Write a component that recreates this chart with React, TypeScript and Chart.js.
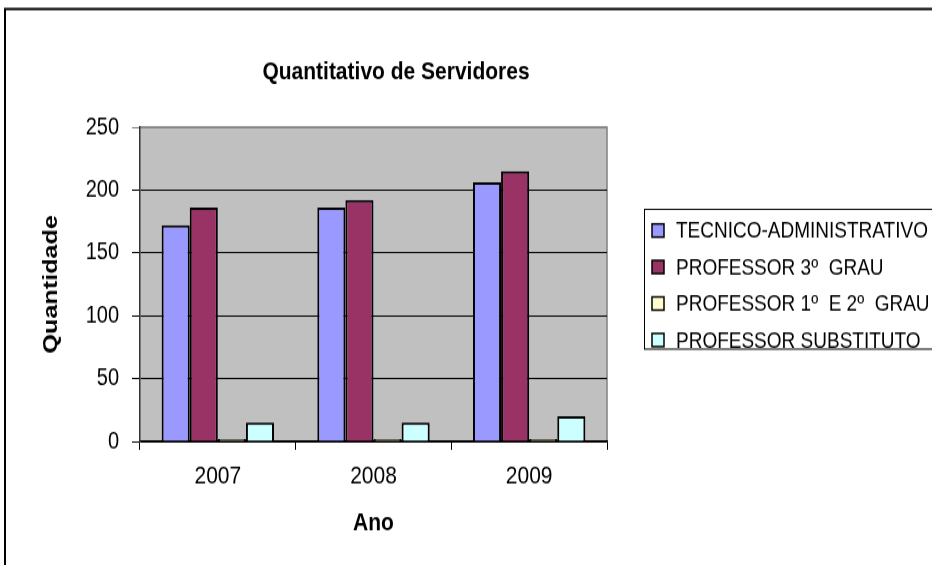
import React, { useEffect, useRef } from "react";
import { Chart, registerables } from "chart.js";

Chart.register(...registerables);

const TITLE = "Quantitativo de Servidores";
const Y_TITLE = "Quantidade";
const X_TITLE = "Ano";
const categories = ["2007", "2008", "2009"];
const seriesNames = [
  "TECNICO-ADMINISTRATIVO",
  "PROFESSOR 3º  GRAU",
  "PROFESSOR 1º  E 2º  GRAU",
  "PROFESSOR SUBSTITUTO",
];
const tecnicoAdministrativo = [172, 186, 206];
const professor3Grau = [186, 192, 215];
const professor1e2Grau = [2, 2, 2];
const professorSubstituto = [15, 15, 20];
const seriesColors = ["#9999FF", "#993366", "#FFFFCC", "#CCFFFF"];
const yTicks = [0, 50, 100, 150, 200, 250];

const FONT = "'Liberation Sans', Arial, sans-serif";
const W = 932;
const H = 471; // drawn height, stretched vertically to 565 like the original picture
const SY = 565 / H;

const decorPlugin = {
  id: "decor",
  beforeDraw(chart: any) {
    const { ctx, chartArea } = chart;
    ctx.save();
    ctx.fillStyle = "#ffffff";
    ctx.fillRect(0, 0, chart.width, chart.height);
    ctx.fillStyle = "#C0C0C0";
    ctx.fillRect(chartArea.left, chartArea.top, chartArea.right - chartArea.left, chartArea.bottom - chartArea.top);
    ctx.strokeStyle = "#808080";
    ctx.lineWidth = 1.5;
    ctx.beginPath();
    ctx.moveTo(chartArea.left, chartArea.top);
    ctx.lineTo(chartArea.right, chartArea.top);
    ctx.lineTo(chartArea.right, chartArea.bottom);
    ctx.stroke();
    ctx.restore();
  },
  afterDraw(chart: any) {
    const { ctx } = chart;
    ctx.save();
    // outer frame
    ctx.strokeStyle = "#000";
    ctx.lineWidth = 2;
    ctx.strokeRect(5, 7.5, chart.width + 20, chart.height + 20);
    // title
    ctx.fillStyle = "#000";
    ctx.font = `bold 21px ${FONT}`;
    ctx.textAlign = "center";
    ctx.textBaseline = "middle";
    ctx.fillText(TITLE, 396, 60.5);
    // legend
    ctx.strokeStyle = "#000";
    ctx.lineWidth = 1;
    ctx.strokeRect(644.5, 174.5, 400, 116.5);
    ctx.font = `19px ${FONT}`;
    ctx.textAlign = "left";
    chart.data.datasets.forEach((ds: any, i: number) => {
      const y = (230.5 + i * 36.5) / SY;
      ctx.fillStyle = ds.backgroundColor;
      ctx.fillRect(652, y - 5.5, 12, 11);
      ctx.lineWidth = 1.5;
      ctx.strokeStyle = "#000";
      ctx.strokeRect(652, y - 5.5, 12, 11);
      ctx.fillStyle = "#000";
      ctx.fillText(ds.label, 676, y + 1);
    });
    ctx.restore();
  },
};

export default function App() {
  const ref = useRef<HTMLCanvasElement>(null);
  useEffect(() => {
    if (!ref.current) return;
    const data = [tecnicoAdministrativo, professor3Grau, professor1e2Grau, professorSubstituto];
    const chart = new Chart(ref.current, {
      type: "bar",
      data: {
        labels: categories,
        datasets: seriesNames.map((name, i) => ({
          label: name,
          data: data[i],
          backgroundColor: seriesColors[i],
          borderColor: "#000",
          borderWidth: 2,
          barPercentage: 1,
          categoryPercentage: 0.722,
        })),
      },
      plugins: [decorPlugin],
      options: {
        animation: false,
        responsive: false,
        maintainAspectRatio: false,
        devicePixelRatio: 1,
        layout: { padding: { top: 106, right: 325, left: 0, bottom: 20 } },
        plugins: {
          legend: { display: false },
          title: { display: false },
          tooltip: { enabled: false },
        },
        scales: {
          x: {
            offset: true,
            grid: {
              offset: true,
              drawOnChartArea: false,
              drawTicks: true,
              tickLength: 7,
              color: "#000",
              lineWidth: 1,
            },
            border: { color: "#000", width: 1.5 },
            ticks: {
              color: "#000",
              font: { family: FONT, size: 21 },
              padding: 10,
            },
            title: {
              display: true,
              text: X_TITLE,
              color: "#000",
              font: { family: FONT, size: 21, weight: "bold" },
              padding: { top: 0, bottom: 2 },
            },
            afterFit(scale: any) {
              scale.height = 83;
            },
          },
          y: {
            min: 0,
            max: 250,
            afterBuildTicks(scale: any) {
              scale.ticks = yTicks.map((v) => ({ value: v }));
            },
            grid: {
              drawOnChartArea: true,
              drawTicks: true,
              tickLength: 8,
              color: (c: any) => (c.tick && c.tick.value === 250 ? "#808080" : "#000"),
              lineWidth: 1,
            },
            border: { color: "#333", width: 1.5 },
            ticks: {
              color: "#000",
              font: { family: FONT, size: 20 },
              padding: 13,
            },
            title: {
              display: true,
              text: Y_TITLE,
              color: "#000",
              font: { family: FONT, size: 21, weight: "bold" },
              padding: { top: 39, bottom: 0 },
            },
            afterFit(scale: any) {
              scale.width = 140;
            },
          },
        },
      },
    });
    return () => chart.destroy();
  }, []);
  return (
    <div style={{ position: "fixed", left: 0, top: 0, width: W, height: 565, overflow: "hidden", background: "#fff" }}>
      <canvas
        ref={ref}
        width={W}
        height={H}
        style={{
          display: "block",
          width: W,
          height: H,
          transform: `scaleY(${SY})`,
          transformOrigin: "0 0",
        }}
      />
    </div>
  );
}
